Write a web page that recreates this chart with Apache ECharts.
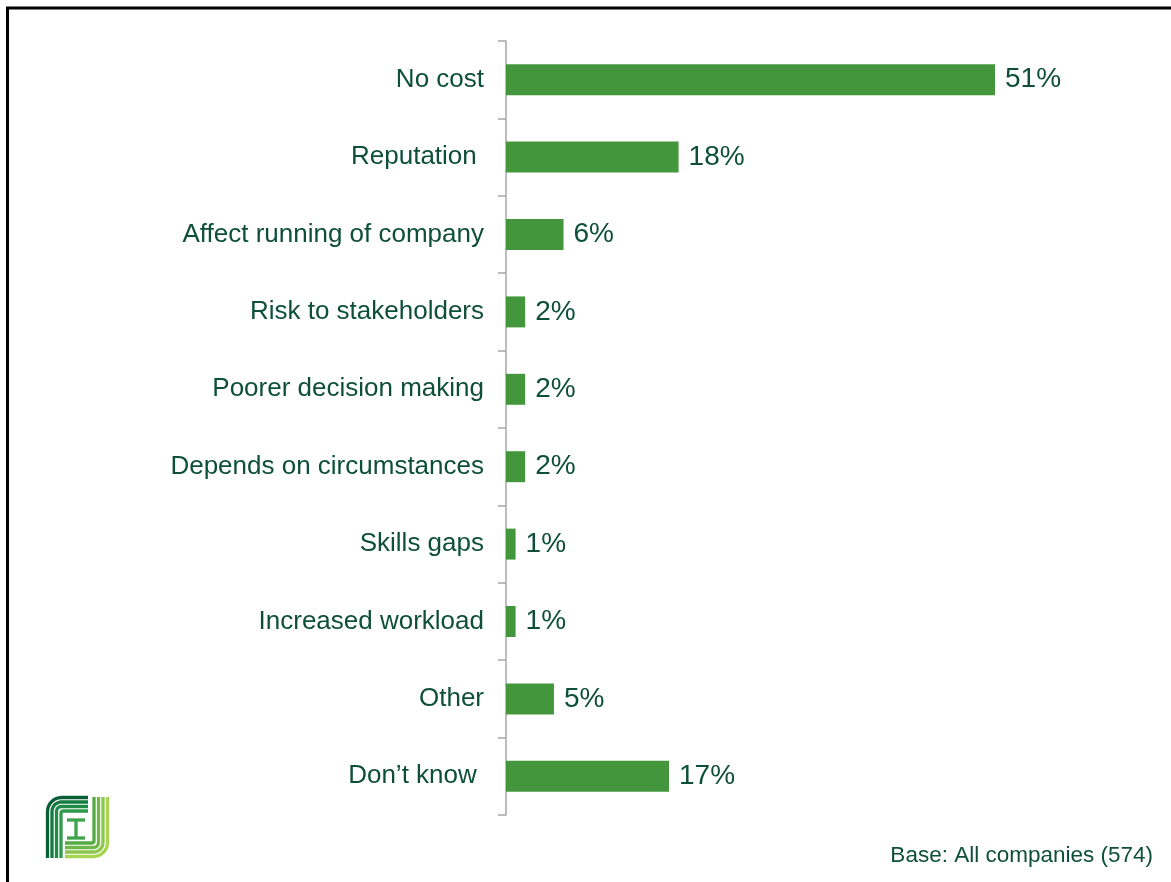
<!DOCTYPE html>
<html>
<head>
<meta charset="utf-8">
<title>Perceived cost</title>
<script src="https://cdn.jsdelivr.net/npm/echarts@6/dist/echarts.min.js"></script>
<style>
  html, body { margin: 0; padding: 0; background: #ffffff; }
  #chart { width: 1171px; height: 882px; }
</style>
</head>
<body>
<div id="chart"></div>
<script>
// Survey answers and their shares (%)
const categories = [
  'No cost',
  'Reputation ',
  'Affect running of company',
  'Risk to stakeholders',
  'Poorer decision making',
  'Depends on circumstances',
  'Skills gaps',
  'Increased workload',
  'Other',
  'Don\u2019t know '
];
const shares = [51, 18, 6, 2, 2, 2, 1, 1, 5, 17];
const baseNote = 'Base: All companies (574)';

const textColor = '#0e4f3a';
const barColor = '#44963d';

// quarter-circle points from angle a0 to a1 around (cx, cy)
function arcPts(cx, cy, r, a0, a1) {
  const pts = [];
  for (let k = 0; k <= 8; k++) {
    const a = a0 + (a1 - a0) * k / 8;
    pts.push([cx + r * Math.cos(a), cy + r * Math.sin(a)]);
  }
  return pts;
}

// Stripe logo built from rounded polylines
function logoShapes() {
  const out = [];
  const leftCols = ['#0a5f36', '#137a40', '#1f8a45', '#2f9a4a'];
  const rightCols = ['#a9d452', '#8cc64d', '#6fb748', '#53a944'];
  const gap = 4.5;
  const lw = 3.3;
  for (let i = 0; i < 4; i++) {
    const x = 47.5 + i * gap, y = 797.5 + i * gap, r = Math.max(2, 14 - i * gap);
    const pts = [[x, 858]].concat(arcPts(x + r, y + r, r, Math.PI, Math.PI * 1.5), [[88, y]]);
    out.push({
      type: 'polyline',
      shape: { points: pts },
      style: { stroke: leftCols[i], lineWidth: lw, fill: null }
    });
  }
  for (let j = 0; j < 4; j++) {
    const x = 107.5 - j * gap, y = 856.5 - j * gap, r = Math.max(2, 14 - j * gap);
    const pts = [[x, 797]].concat(arcPts(x - r, y - r, r, 0, Math.PI / 2), [[65, y]]);
    out.push({
      type: 'polyline',
      shape: { points: pts },
      style: { stroke: rightCols[j], lineWidth: lw, fill: null }
    });
  }
  // central I-shaped strokes
  [[[67, 820], [85, 820]], [[76, 820], [76, 838]], [[67, 838], [85, 838]]].forEach(p => {
    out.push({
      type: 'polyline',
      shape: { points: p },
      style: { stroke: '#3ea24a', lineWidth: lw, fill: null }
    });
  });
  return out;
}

const chart = echarts.init(document.getElementById('chart'), null, { renderer: 'canvas' });

chart.setOption({
  animation: false,
  backgroundColor: '#ffffff',
  textStyle: { fontFamily: 'Liberation Sans, Arial, sans-serif' },
  grid: { left: 506, top: 41, width: 489, height: 774, containLabel: false },
  xAxis: {
    type: 'value',
    min: 0,
    max: 51,
    show: false
  },
  yAxis: {
    type: 'category',
    data: categories,
    inverse: true,
    axisLine: { show: true, lineStyle: { color: '#a6a6a6', width: 1.5 } },
    axisTick: { show: true, length: 8, lineStyle: { color: '#a6a6a6', width: 1.5 } },
    axisLabel: {
      margin: 22,
      color: textColor,
      fontSize: 26,
      padding: [3, 0, 0, 0],
      fontFamily: 'Liberation Sans, Arial, sans-serif'
    },
    splitLine: { show: false }
  },
  series: [{
    type: 'bar',
    data: shares,
    barCategoryGap: '60%',
    itemStyle: { color: barColor },
    label: {
      show: true,
      position: 'right',
      distance: 10,
      formatter: '{c}%',
      color: textColor,
      fontSize: 28,
      padding: [3, 0, 0, 0],
      fontFamily: 'Liberation Sans, Arial, sans-serif'
    }
  }],
  graphic: [
    // frame lines along the top and left edges
    { type: 'line', shape: { x1: 6, y1: 8, x2: 1171, y2: 8 }, style: { stroke: '#000000', lineWidth: 3 } },
    { type: 'line', shape: { x1: 7.5, y1: 7, x2: 7.5, y2: 882 }, style: { stroke: '#000000', lineWidth: 3 } },
    {
      type: 'text',
      right: 18,
      top: 844,
      style: {
        text: baseNote,
        fill: textColor,
        fontSize: 22.5,
        fontFamily: 'Liberation Sans, Arial, sans-serif'
      }
    },
    { type: 'group', children: logoShapes() }
  ]
});
</script>
</body>
</html>
